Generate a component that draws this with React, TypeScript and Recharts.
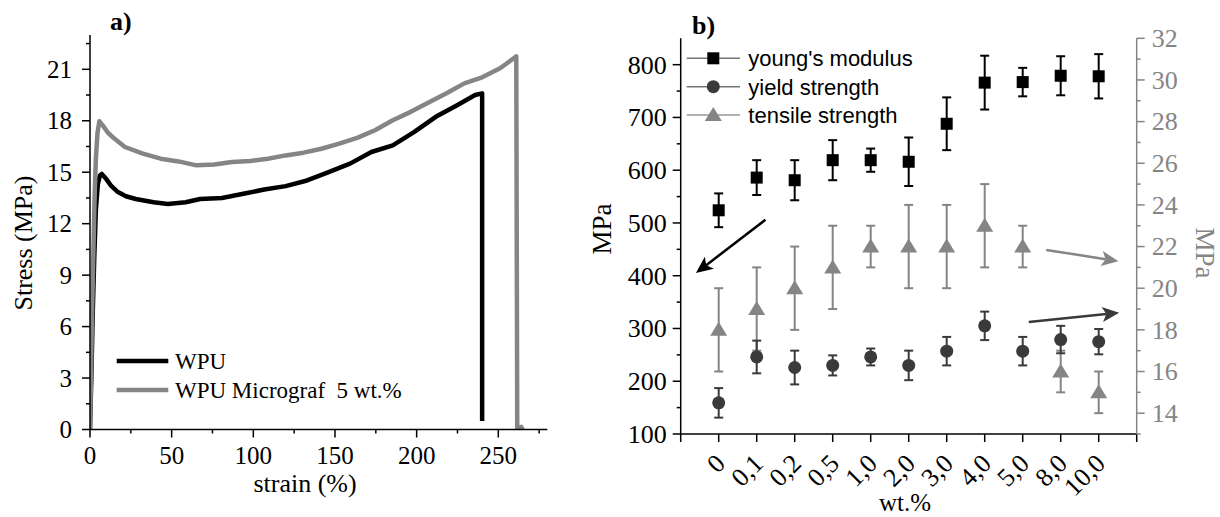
import React from 'react';
import { LineChart, Line, XAxis, YAxis, ComposedChart, Scatter, ErrorBar, ReferenceLine } from 'recharts';

const SERIF = '"Liberation Serif", "Times New Roman", serif';
const SANS = '"Liberation Sans", Arial, sans-serif';
const GRAY = '#858585';
const DARK = '#3a3a3a';

// ---------- Panel a: stress-strain curves ----------
const wpuStrain = [0, 0.8, 1.6, 2.6, 3.6, 4.8, 6.0, 7.2, 10, 13, 17.1, 22, 28, 38.9, 47.7, 58.6, 67.4, 80.8, 93.9, 106.7, 119.8, 132.9, 146.1, 159.2, 172.3, 185.4, 198.6, 211.7, 224.8, 235.8, 240.1, 240.1];
const wpuStress = [0, 3.0, 6.5, 10.0, 12.8, 14.3, 14.8, 14.9, 14.6, 14.2, 13.84, 13.6, 13.44, 13.25, 13.15, 13.25, 13.44, 13.5, 13.74, 13.99, 14.19, 14.52, 15.01, 15.5, 16.18, 16.57, 17.35, 18.23, 18.91, 19.5, 19.6, 0.5];
const micStrain = [0, 0.6, 1.2, 2.0, 2.8, 3.6, 4.6, 5.7, 8, 11, 14.9, 21.4, 32.4, 43.3, 54.2, 65.2, 76.1, 87, 98, 108.9, 119.8, 130.8, 141.7, 152.6, 163.6, 174.5, 185.4, 196.4, 207.3, 218.3, 229.2, 240.1, 251.1, 261, 261.6, 264, 265];
const micStress = [0, 3, 6.5, 10, 13.5, 15.8, 17.3, 17.97, 17.7, 17.3, 16.96, 16.47, 16.08, 15.79, 15.63, 15.4, 15.45, 15.59, 15.65, 15.79, 15.98, 16.14, 16.37, 16.67, 17.0, 17.45, 18.03, 18.52, 19.07, 19.6, 20.18, 20.53, 21.06, 21.75, 0, 0.15, 0];
const aXTicks = [0, 25, 50, 75, 100, 125, 150, 175, 200, 225, 250, 275];
const aXMajor = [0, 50, 100, 150, 200, 250];
const aYTicks = [0, 1.5, 3, 4.5, 6, 7.5, 9, 10.5, 12, 13.5, 15, 16.5, 18, 19.5, 21, 22.5];
const aYMajor = [0, 3, 6, 9, 12, 15, 18, 21];

// ---------- Panel b: mechanical properties vs wt.% ----------
const wtLabels = ['0', '0,1', '0,2', '0,5', '1,0', '2,0', '3,0', '4,0', '5,0', '8,0', '10,0'];
const wtPos = [0, 1, 2, 3, 4, 5, 6, 7, 8, 9, 10];
const youngs = [524, 586, 581, 619, 619, 616, 688, 766, 767, 779, 778];
const youngsErr = [32, 33, 38, 38, 22, 46, 50, 51, 27, 37, 42];
const yieldS = [159, 246, 226, 230, 246, 230, 257, 305, 257, 279, 275];
const yieldErr = [28, 31, 32, 19, 16, 28, 27, 27, 27, 26, 24];
const tensile = [18, 19, 20, 21, 22, 22, 22, 23, 22, 16, 15];
const tensileErr = [2, 2, 2, 2, 1, 2, 2, 2, 1, 1, 1];
const bXTicks = [-1, 0, 1, 2, 3, 4, 5, 6, 7, 8, 9, 10, 11];
const bLeftTicks = [100, 150, 200, 250, 300, 350, 400, 450, 500, 550, 600, 650, 700, 750, 800];
const bLeftMajor = [100, 200, 300, 400, 500, 600, 700, 800];
const bRightTicks = [13, 14, 15, 16, 17, 18, 19, 20, 21, 22, 23, 24, 25, 26, 27, 28, 29, 30, 31, 32];
const bRightMajor = [14, 16, 18, 20, 22, 24, 26, 28, 30, 32];

// annotation arrows (data coordinates: wt index, MPa)
const arrowLeft = [{ x: 1.23, y: 506 }, { x: -0.6, y: 405 }];
const arrowTensile = [{ x: 8.62, y: 21.84 }, { x: 10.52, y: 21.3 }];
const arrowYield = [{ x: 8.16, y: 18.38 }, { x: 10.54, y: 18.82 }];

const wpuData = wpuStrain.map((s, i) => ({ x: s, y: wpuStress[i] }));
const micData = micStrain.map((s, i) => ({ x: s, y: micStress[i] }));
const youngData = wtPos.map((p, i) => ({ x: p, y: youngs[i], err: youngsErr[i] }));
const yieldData = wtPos.map((p, i) => ({ x: p, y: yieldS[i], err: yieldErr[i] }));
const tensileData = wtPos.map((p, i) => ({ x: p, y: tensile[i], err: tensileErr[i] }));

type TickCfg = {
  side: 'left' | 'right' | 'bottom';
  size: number;
  margin: number;
  major: number[];
  majorLen: number;
  minorLen: number;
  color: string;
  fontSize: number;
  font: string;
  label?: (v: number) => string | null;
  rotate?: boolean;
};

const makeTick = (c: TickCfg) => (props: any) => {
  const { x, y, payload } = props;
  const v = payload.value;
  const isMajor = c.major.includes(v);
  const len = isMajor ? c.majorLen : c.minorLen;
  const lab = isMajor ? (c.label ? c.label(v) : String(v)) : null;
  const textProps = { fill: c.color, fontSize: c.fontSize, fontFamily: c.font };
  if (c.side === 'left') {
    const ax = x + c.size + c.margin;
    return (
      <g>
        <line x1={ax} x2={ax - len} y1={y} y2={y} stroke={c.color} strokeWidth={1.5} />
        {lab !== null && <text x={x} y={y} dy="0.34em" textAnchor="end" {...textProps}>{lab}</text>}
      </g>
    );
  }
  if (c.side === 'right') {
    const ax = x - c.size - c.margin;
    return (
      <g>
        <line x1={ax} x2={ax + len} y1={y} y2={y} stroke={c.color} strokeWidth={1.5} />
        {lab !== null && <text x={x} y={y} dy="0.34em" textAnchor="start" {...textProps}>{lab}</text>}
      </g>
    );
  }
  const ay = y - c.size - c.margin;
  if (c.rotate) {
    const px = x + 8;
    const py = ay + 31;
    return (
      <g>
        <line x1={x} x2={x} y1={ay} y2={ay + len} stroke={c.color} strokeWidth={1.5} />
        {lab !== null && (
          <text x={px} y={py} textAnchor="end" transform={`rotate(-45 ${px} ${py})`} {...textProps}>{lab}</text>
        )}
      </g>
    );
  }
  return (
    <g>
      <line x1={x} x2={x} y1={ay} y2={ay + len} stroke={c.color} strokeWidth={1.5} />
      {lab !== null && <text x={x} y={y} dy="0.68em" textAnchor="middle" {...textProps}>{lab}</text>}
    </g>
  );
};

const aYTick = makeTick({ side: 'left', size: 8, margin: 10, major: aYMajor, majorLen: 8, minorLen: 4, color: '#000', fontSize: 25, font: SERIF });
const aXTick = makeTick({ side: 'bottom', size: 8, margin: 9, major: aXMajor, majorLen: 8, minorLen: 4, color: '#000', fontSize: 25, font: SERIF });
const bLTick = makeTick({ side: 'left', size: 8, margin: 6, major: bLeftMajor, majorLen: 8, minorLen: 4, color: '#000', fontSize: 26, font: SERIF });
const bRTick = makeTick({ side: 'right', size: 8, margin: 7, major: bRightMajor, majorLen: 8, minorLen: 4, color: GRAY, fontSize: 26, font: SERIF });
const bXTick = makeTick({
  side: 'bottom', size: 8, margin: 0, major: bXTicks, majorLen: 8, minorLen: 8, color: '#000', fontSize: 26, font: SERIF,
  label: (v) => (v >= 0 && v <= 10 ? wtLabels[v] : null), rotate: true,
});

const SquareShape = (p: any) => <rect x={p.cx - 6} y={p.cy - 6} width={12} height={12} fill="#000" />;
const CircleShape = (p: any) => <circle cx={p.cx} cy={p.cy} r={6.5} fill={DARK} />;
const TriangleShape = (p: any) => (
  <polygon points={`${p.cx},${p.cy - 8} ${p.cx + 8.5},${p.cy + 6} ${p.cx - 8.5},${p.cy + 6}`} fill={GRAY} />
);

const arrowShape = (color: string) => (props: any) => {
  const { x1, y1, x2, y2 } = props;
  const dx = x2 - x1;
  const dy = y2 - y1;
  const len = Math.hypot(dx, dy) || 1;
  const ux = dx / len;
  const uy = dy / len;
  const hl = 17;
  const hw = 7.5;
  const bx = x2 - ux * hl;
  const by = y2 - uy * hl;
  const pts = `${x2},${y2} ${bx - uy * hw},${by + ux * hw} ${bx + ux * 4},${by + uy * 4} ${bx + uy * hw},${by - ux * hw}`;
  return (
    <g>
      <line x1={x1} y1={y1} x2={bx + ux * 4} y2={by + uy * 4} stroke={color} strokeWidth={2.5} />
      <polygon points={pts} fill={color} />
    </g>
  );
};

export default function App() {
  return (
    <div style={{ position: 'absolute', left: 0, top: 0, width: 1220, height: 517, background: '#fff' }}>
      <div style={{ position: 'absolute', left: 0, top: 0 }}>
        <LineChart width={560} height={517} margin={{ top: 35, right: 12.7, bottom: 0, left: 0 }}>
          <XAxis dataKey="x" type="number" domain={[0, 280]} allowDataOverflow ticks={aXTicks} interval={0}
            height={87.5} tickSize={8} tickMargin={9} tickLine={false} tick={aXTick}
            axisLine={{ stroke: '#000', strokeWidth: 1.5 }} />
          <XAxis xAxisId="top" orientation="top" type="number" domain={[0, 280]} allowDataOverflow height={0}
            tick={false} tickLine={false} axisLine={{ stroke: '#000', strokeWidth: 1.5 }} />
          <YAxis dataKey="y" type="number" domain={[0, 23]} allowDataOverflow ticks={aYTicks} interval={0}
            width={90} tickSize={8} tickMargin={10} tickLine={false} tick={aYTick}
            axisLine={{ stroke: '#000', strokeWidth: 1.5 }} />
          <YAxis yAxisId="r" orientation="right" type="number" domain={[0, 23]} allowDataOverflow width={0}
            tick={false} tickLine={false} axisLine={{ stroke: '#000', strokeWidth: 1.5 }} />
          <Line data={wpuData} dataKey="y" type="linear" stroke="#000" strokeWidth={4.5} dot={false}
            isAnimationActive={false} strokeLinejoin="round" />
          <Line data={micData} dataKey="y" type="linear" stroke={GRAY} strokeWidth={4.5} dot={false}
            isAnimationActive={false} strokeLinejoin="round" />
        </LineChart>
      </div>
      <div style={{ position: 'absolute', left: 560, top: 0 }}>
        <ComposedChart width={660} height={517} margin={{ top: 38.3, right: 0, bottom: 0, left: 0 }}>
          <XAxis dataKey="x" type="number" domain={[-1, 11]} allowDataOverflow ticks={bXTicks} interval={0}
            height={83} tickSize={8} tickMargin={0} tickLine={false} tick={bXTick}
            axisLine={{ stroke: '#000', strokeWidth: 1.5 }} />
          <XAxis xAxisId="top" orientation="top" type="number" domain={[-1, 11]} allowDataOverflow ticks={bXTicks}
            interval={0} height={0} tick={false} tickSize={3} tickLine={{ stroke: '#000', strokeWidth: 1.2 }}
            axisLine={{ stroke: '#000', strokeWidth: 1.5 }} />
          <YAxis yAxisId="left" dataKey="y" type="number" domain={[100, 850]} allowDataOverflow ticks={bLeftTicks}
            interval={0} width={120.7} tickSize={8} tickMargin={6} tickLine={false} tick={bLTick}
            axisLine={{ stroke: '#000', strokeWidth: 1.5 }} />
          <YAxis yAxisId="right" orientation="right" dataKey="y" type="number" domain={[13, 32]} allowDataOverflow
            ticks={bRightTicks} interval={0} width={83.3} tickSize={8} tickMargin={7} tickLine={false} tick={bRTick}
            axisLine={{ stroke: GRAY, strokeWidth: 1.5 }} />
          <Scatter data={tensileData} yAxisId="right" dataKey="y" shape={TriangleShape} isAnimationActive={false}>
            <ErrorBar dataKey="err" direction="y" width={4.5} strokeWidth={2} stroke={GRAY} />
          </Scatter>
          <Scatter data={yieldData} yAxisId="left" dataKey="y" shape={CircleShape} isAnimationActive={false}>
            <ErrorBar dataKey="err" direction="y" width={4.5} strokeWidth={2} stroke={DARK} />
          </Scatter>
          <Scatter data={youngData} yAxisId="left" dataKey="y" shape={SquareShape} isAnimationActive={false}>
            <ErrorBar dataKey="err" direction="y" width={4.5} strokeWidth={2} stroke="#000" />
          </Scatter>
          <ReferenceLine yAxisId="left" segment={arrowLeft} shape={arrowShape('#000')} />
          <ReferenceLine yAxisId="right" segment={arrowTensile} shape={arrowShape(GRAY)} />
          <ReferenceLine yAxisId="right" segment={arrowYield} shape={arrowShape(DARK)} />
        </ComposedChart>
      </div>
      <svg width={1220} height={517} style={{ position: 'absolute', left: 0, top: 0, pointerEvents: 'none' }}>
        {/* panel a texts */}
        <text x={110} y={30} fontFamily={SERIF} fontWeight="bold" fontSize={26}>a)</text>
        <text x={0} y={0} transform="translate(23 243) rotate(-90)" textAnchor="middle" dy="0.34em"
          fontFamily={SERIF} fontSize={26}>Stress (MPa)</text>
        <text x={305} y={492} textAnchor="middle" fontFamily={SERIF} fontSize={26}>strain (%)</text>
        <line x1={116.7} x2={168.3} y1={361} y2={361} stroke="#000" strokeWidth={4.5} />
        <line x1={116.7} x2={168.3} y1={390} y2={390} stroke={GRAY} strokeWidth={4.5} />
        <text x={175} y={361} dy="0.34em" fontFamily={SERIF} fontSize={23}>WPU</text>
        <text x={175} y={390} dy="0.34em" fontFamily={SERIF} fontSize={23} xmlSpace="preserve">WPU Micrograf  5 wt.%</text>
        {/* panel b texts */}
        <text x={692} y={34} fontFamily={SERIF} fontWeight="bold" fontSize={26}>b)</text>
        <text x={0} y={0} transform="translate(602 229) rotate(-90)" textAnchor="middle" dy="0.34em"
          fontFamily={SERIF} fontSize={27}>MPa</text>
        <text x={0} y={0} transform="translate(1205 253) rotate(90)" textAnchor="middle" dy="0.34em"
          fontFamily={SERIF} fontSize={27} fill={GRAY}>MPa</text>
        <text x={905} y={511} textAnchor="middle" fontFamily={SERIF} fontSize={25}>wt.%</text>
        {/* panel b legend */}
        <line x1={686.7} x2={740} y1={58.3} y2={58.3} stroke="#777" strokeWidth={1.5} />
        <rect x={707.3} y={52.3} width={12} height={12} fill="#000" />
        <text x={748.3} y={58.3} dy="0.36em" fontFamily={SANS} fontSize={22}>young's modulus</text>
        <line x1={686.7} x2={740} y1={86.7} y2={86.7} stroke="#777" strokeWidth={1.5} />
        <circle cx={713.3} cy={86.7} r={6.5} fill={DARK} />
        <text x={748.3} y={86.7} dy="0.36em" fontFamily={SANS} fontSize={22}>yield strength</text>
        <line x1={686.7} x2={740} y1={115} y2={115} stroke="#999" strokeWidth={1.5} />
        <polygon points="713.3,107 721.8,121 704.8,121" fill={GRAY} />
        <text x={748.3} y={115} dy="0.36em" fontFamily={SANS} fontSize={22}>tensile strength</text>
      </svg>
    </div>
  );
}
